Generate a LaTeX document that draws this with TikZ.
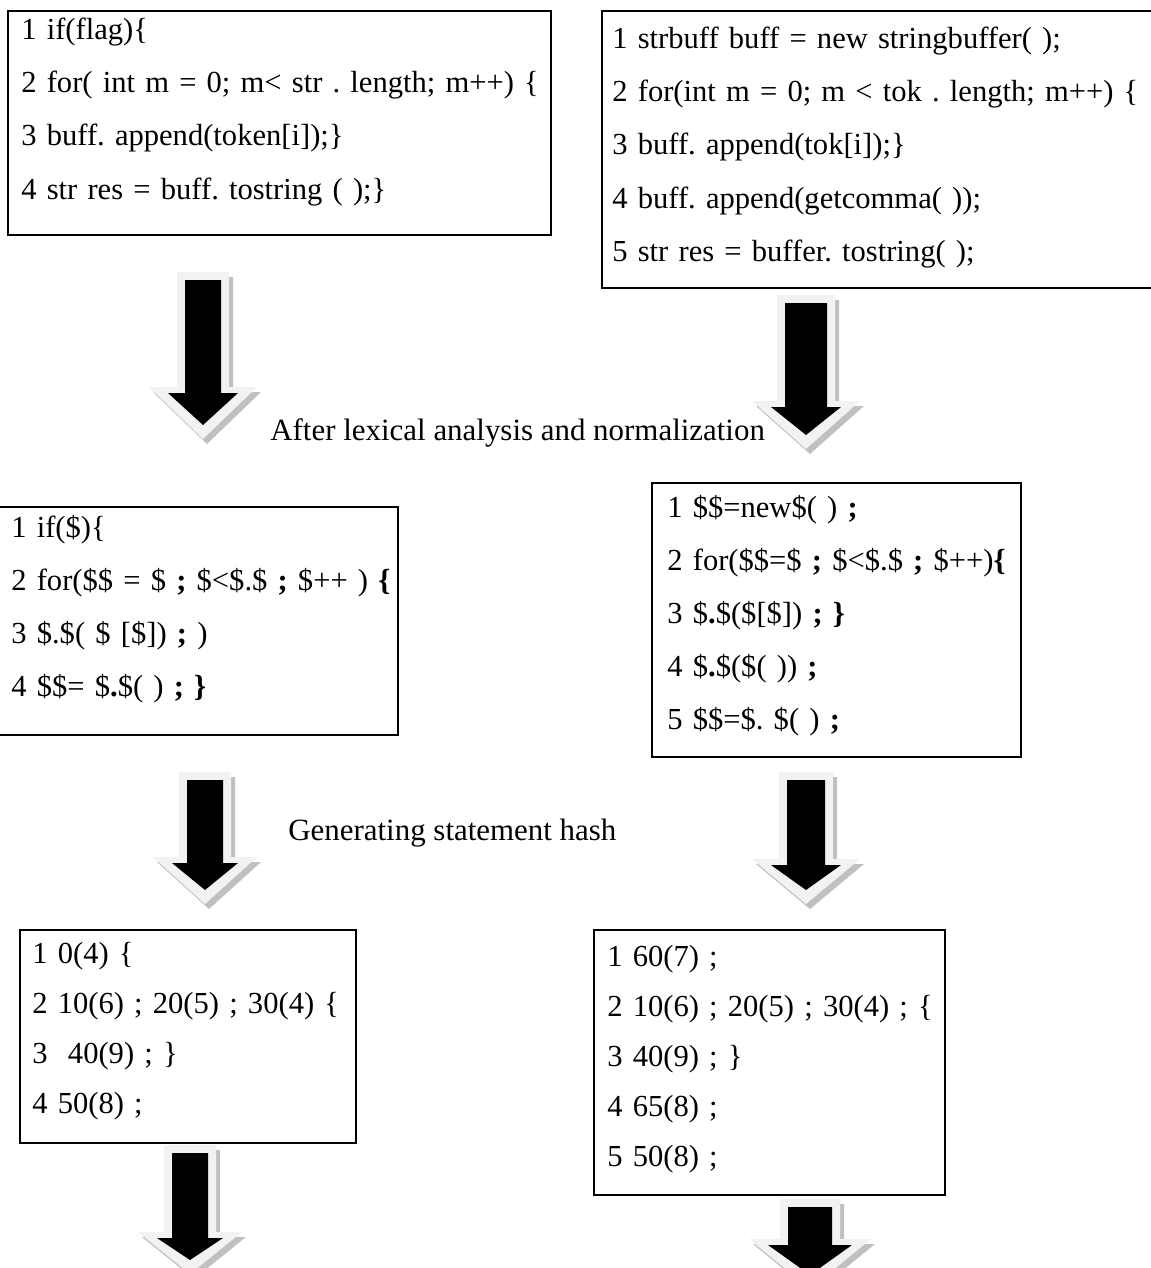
\documentclass[tikz,border=0pt]{standalone}
\usepackage{fontspec}
\setmainfont{Liberation Serif}
\frenchspacing
\definecolor{arrowlight}{HTML}{F2F2F2}
\definecolor{arrowshadow}{HTML}{C0C0C0}
% block arrow: centre x, top, tip, shaft half width, head half width, head height
\newcommand{\blockdown}[6]{%
  \fill[arrowshadow,shift={(4,5)}] (#1-#4-8,#2-8) -- (#1+#4+8,#2-8) -- (#1+#4+8,#3-#6-6) -- (#1+#5+19,#3-#6-6)
    -- (#1,#3+14) -- (#1-#5-19,#3-#6-6) -- (#1-#4-8,#3-#6-6) -- cycle;
  \fill[arrowlight] (#1-#4-8,#2-8) -- (#1+#4+8,#2-8) -- (#1+#4+8,#3-#6-6) -- (#1+#5+19,#3-#6-6)
    -- (#1,#3+14) -- (#1-#5-19,#3-#6-6) -- (#1-#4-8,#3-#6-6) -- cycle;
  \fill[black] (#1-#4,#2) -- (#1+#4,#2) -- (#1+#4,#3-#6) -- (#1+#5,#3-#6)
    -- (#1,#3) -- (#1-#5,#3-#6) -- (#1-#4,#3-#6) -- cycle;
}

\begin{document}
\begin{tikzpicture}[x=0.02cm,y=-0.02cm,
    boxline/.style={line width=1.3pt},
    code/.style={anchor=north west,inner sep=0pt,align=left,text width=11cm,
      font=\fontsize{17.4}{30.2}\selectfont},
    codetight/.style={code,font=\fontsize{17.4}{28.5}\selectfont},
    caption/.style={anchor=base west,inner sep=0pt,font=\fontsize{17.6}{21}\selectfont}]
  \useasboundingbox (0,0) rectangle (1150,1268);

  %源代码
  \draw[boxline] (8,11) rectangle (551,235);
  \node[code] (srcA) at (21,18) {1 if(flag)\{\\
    2 for( int m = 0; m< str . length; m++) \{\\
    3 buff. append(token[i]);\}\\
    4 str res = buff. tostring ( );\}};
  \draw[boxline] (602,11) rectangle (1153,288);
  \node[code] (srcB) at (612,27) {1 strbuff buff = new stringbuffer( );\\
    2 for(int m = 0; m < tok . length; m++) \{\\
    3 buff. append(tok[i]);\}\\
    4 buff. append(getcomma( ));\\
    5 str res = buffer. tostring( );};

  %词法分析与规范化
  \blockdown{203}{280}{425}{18}{35}{32}
  \blockdown{806}{303}{435}{21}{35}{28}
  \node[caption] (lexlabel) at (270,440) {After lexical analysis and normalization};

  \draw[boxline] (-3,507) rectangle (398,735);
  \node[code] (normA) at (11,515) {1 if(\$)\{\\
    2 for(\$\$ = \$ \textbf{;} \$<\$.\$ \textbf{;} \$++ ) \textbf{\{}\\
    3 \$.\$( \$ [\$]) \textbf{;} )\\
    4 \$\$= \$\textbf{.}\$( ) \textbf{;} \textbf{\}}};
  \draw[boxline] (652,483) rectangle (1021,757);
  \node[code] (normB) at (667,495) {1 \$\$=new\$( ) \textbf{;}\\
    2 for(\$\$=\$ \textbf{;} \$<\$.\$ \textbf{;} \$++)\textbf{\{}\\
    3 \$\textbf{.}\$(\$[\$]) \textbf{;} \textbf{\}}\\
    4 \$\textbf{.}\$(\$( )) \textbf{;}\\
    5 \$\$=\$. \$( ) \textbf{;}};

  %语句哈希
  \blockdown{205}{780}{890}{18}{33}{27}
  \blockdown{806}{780}{890}{19}{35}{25}
  \node[caption] (hashlabel) at (288,840) {Generating statement hash};

  \draw[boxline] (20,930) rectangle (356,1143);
  \node[codetight] (hashA) at (32,942) {1 0(4) \{\\
    2 10(6) ; 20(5) ; 30(4) \{\\
    3\ \ 40(9) ; \}\\
    4 50(8) ;};
  \draw[boxline] (594,930) rectangle (945,1195);
  \node[codetight] (hashB) at (607,945) {1 60(7) ;\\
    2 10(6) ; 20(5) ; 30(4) ; \{\\
    3 40(9) ; \}\\
    4 65(8) ;\\
    5 50(8) ;};

  \blockdown{190}{1153}{1260}{18}{33}{22}
  \blockdown{810}{1207}{1275}{22}{42}{30}
\end{tikzpicture}
\end{document}
